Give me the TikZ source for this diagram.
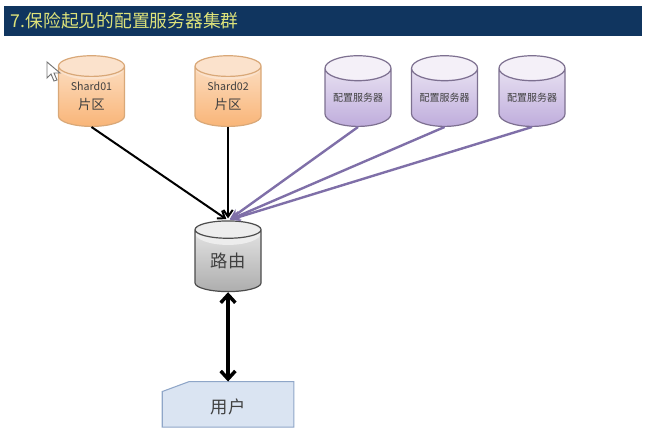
\documentclass[tikz,border=0pt]{standalone}
\usepackage{xcolor}
\usepackage{fontspec}
\setmainfont{Noto Sans CJK SC}
\usetikzlibrary{positioning, arrows.meta, shapes.geometric, backgrounds, calc}

\definecolor{barblue}{HTML}{10355F}
\definecolor{titleyellow}{HTML}{DDE27A}
\definecolor{linepurple}{HTML}{7F6FA8}
\definecolor{shardline}{HTML}{D9A878}
\definecolor{shardtop}{HTML}{FCE3CB}
\definecolor{shardbottom}{HTML}{F9B578}
\definecolor{shardend}{HTML}{FBE2CC}
\definecolor{configline}{HTML}{7D7090}
\definecolor{configtop}{HTML}{F0EBF6}
\definecolor{configbottom}{HTML}{BFADDC}
\definecolor{configend}{HTML}{F4F0F8}
\definecolor{userline}{HTML}{8FA6C8}
\definecolor{userfill}{HTML}{DAE4F2}

\tikzset{
    drum/.style n args={4}{cylinder, shape border rotate=90, aspect=0.5, draw=#1, line width=0.9pt,
        minimum width=49.5pt, minimum height=53pt, inner sep=0pt, align=center, text=black!75, top color=#2, bottom color=#3,
        path picture={\fill[#4] ([yshift=-9pt]path picture bounding box.north) ellipse (24.75pt and 9pt);}},
    sharddrum/.style={drum={shardline}{shardtop}{shardbottom}{shardend}},
    configdrum/.style={drum={configline}{configtop}{configbottom}{configend}},
    routerdrum/.style={drum={black!70}{black!8}{black!32}{black!7}},
}

\begin{document}
\begin{tikzpicture}[x=0.75pt, y=-0.75pt]
        \useasboundingbox (0,0) rectangle (650,435);

        % Title bar
        \node[fill=barblue, text=titleyellow, minimum width=478.5pt, minimum height=22.5pt, inner sep=0pt, font=\fontsize{13.3pt}{15pt}\selectfont, text width=468pt, align=left] (title) at (323,21) {7.保险起见的配置服务器集群};

        % Cylinders
        \node[sharddrum, anchor=south] (shard01) at (91.5,127) {\fontsize{8pt}{10pt}\selectfont Shard01\\[2pt]\fontsize{10pt}{12pt}\selectfont 片区};
        \node[sharddrum, right=52pt of shard01] (shard02) {\fontsize{8pt}{10pt}\selectfont Shard02\\[2pt]\fontsize{10pt}{12pt}\selectfont 片区};
        \node[configdrum, anchor=south, font=\fontsize{7.5pt}{9pt}\selectfont] (config01) at (358,127) {配置服务器};
        \node[configdrum, font=\fontsize{7.5pt}{9pt}\selectfont, right=14.5pt of config01] (config02) {配置服务器};
        \node[configdrum, font=\fontsize{7.5pt}{9pt}\selectfont, right=15.2pt of config02] (config03) {配置服务器};
        \node[routerdrum, font=\fontsize{13pt}{15pt}\selectfont, below=70pt of shard02] (router) {路由};

        % User box
        \node[minimum width=98.25pt, minimum height=33.75pt, inner sep=0pt, text=black!75, text height=16pt, text depth=2pt, font=\fontsize{13pt}{15pt}\selectfont, below=67pt of router] (user) {用户};
        \begin{scope}[on background layer]
            \draw[draw=userline, line width=0.8pt, fill=userfill] ($(user.north west)+(0,10)$) -- ($(user.north west)+(27,0)$) -- (user.north east) -- (user.south east) -- (user.south west) -- cycle;
        \end{scope}

        % Mouse pointer
        \draw[fill=white, draw=black!55, line width=0.7pt] (47,62) -- (47,78) -- (51,74) -- (54,81) -- (57,80) -- (54,73) -- (60,73) -- cycle;

        % Connections
        \foreach \cfg in {config01, config02, config03} {
            \draw[-{Stealth[length=8pt, width=7pt]}, linepurple, line width=1.8pt, shorten >=1.5pt] (\cfg.south) -- (router.north);
        }
        \draw[-{Straight Barb[length=5pt, width=7pt]}, black, line width=1.5pt, shorten >=1.5pt] (shard01.south) -- (router.north);
        \draw[-{Straight Barb[length=5pt, width=7pt]}, black, line width=1.5pt, shorten >=1.5pt] (shard02.south) -- (router.north);
        \draw[{Straight Barb[length=6pt, width=11pt]}-{Straight Barb[length=6pt, width=11pt]}, black, line width=2.6pt] (router.south) -- (user.north);
    \end{tikzpicture}
\end{document}
